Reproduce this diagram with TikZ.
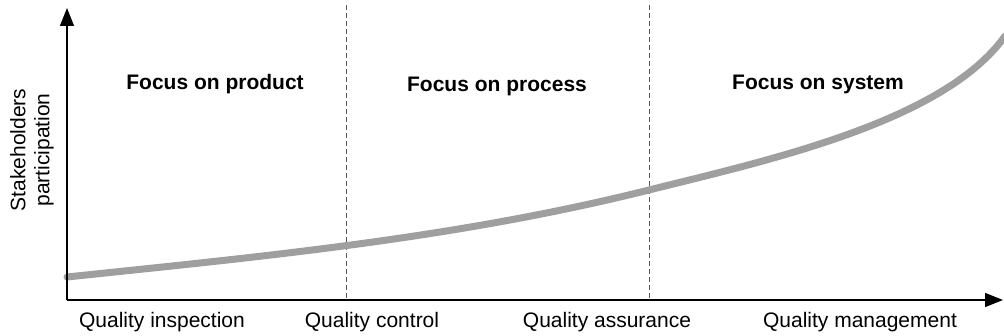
\documentclass[tikz,border=0pt]{standalone}
\usepackage{fontspec}
\setmainfont{Liberation Sans}
\usetikzlibrary{arrows.meta}

\begin{document}
\begin{tikzpicture}[x=0.5pt,y=-0.5pt,
        axis/.style={line width=0.6pt,-{Triangle[length=9pt,width=7pt]}},
        divider/.style={gray!70!black,line width=0.5pt,dash pattern=on 2.5pt off 1.5pt},
        trend/.style={gray!75,line width=3.5pt,line cap=round},
        focus/.style={font=\fontsize{10.5}{12}\selectfont\bfseries},
        stage/.style={font=\fontsize{10.5}{12}\selectfont}]
        \useasboundingbox (0,0) rectangle (1004,336);

        \coordinate (origin) at (67,300);
        \coordinate (ytip) at (67,8);
        \coordinate (xtip) at (1003,300);

        \foreach \x/\name in {346/a,649/b}
        {
            \coordinate (top\name) at (\x,5);
            \coordinate (bot\name) at (\x,300);
            \draw[divider] (top\name) -- (bot\name);
        }

        \coordinate (start) at (67,277);
        \coordinate (mid) at (649,190);
        \coordinate (end) at (1005,36);
        \draw[trend] (start) .. controls (261,256.6) and (455,238.5) .. (mid)
            .. controls (767,160.5) and (944,122) .. (end);

        \draw[axis] (origin) -- (ytip);
        \draw[axis] (origin) -- (xtip);

        \node[focus] (product) at (215,84) {Focus on product};
        \node[focus] (process) at (497,86) {Focus on process};
        \node[focus] (system) at (818,84) {Focus on system};

        \node[stage] (inspection) at (162,322) {Quality inspection};
        \node[stage] (control) at (372,322) {Quality control};
        \node[stage] (assurance) at (607,322) {Quality assurance};
        \node[stage] (management) at (860,322) {Quality management};

        \node[stage,rotate=90,align=center] (participation) at (32,150) {Stakeholders\\participation};
    \end{tikzpicture}
\end{document}
